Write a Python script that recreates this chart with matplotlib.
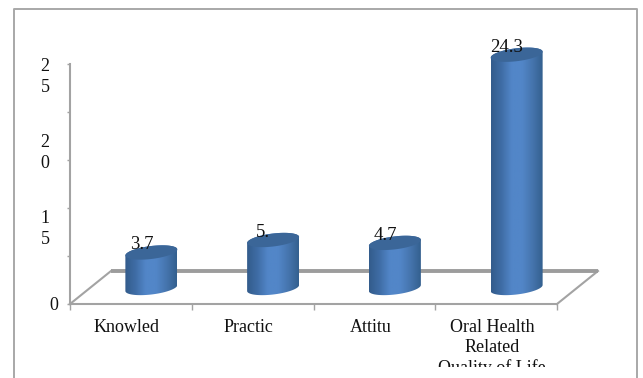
import numpy as np
import matplotlib
matplotlib.use("Agg")
import matplotlib.pyplot as plt
from matplotlib.colors import LinearSegmentedColormap
from matplotlib.lines import Line2D
from matplotlib.patches import PathPatch, Polygon
from matplotlib.path import Path
from matplotlib.transforms import Bbox, ScaledTranslation, TransformedBbox

#Chart values:
categories = ["Knowled", "Practic", "Attitu", "Oral Health\nRelated\nQuality of Life"]
values = [3.7, 5.0, 4.7, 24.3]
value_labels = ["3.7", "5.", "4.7", "24.3"]
y_ticks = [0, 5, 10, 15, 20, 25]
y_labels = ["2\n5", "2\n0", "1\n5", "0"]

W, H, DPI = 643, 378, 100
GRAY = "#a3a3a3"
plt.rcParams["font.family"] = ["Liberation Serif", "DejaVu Serif"]
plt.rcParams["font.size"] = 13

fig = plt.figure(figsize=(W / DPI, H / DPI), dpi=DPI)
ax = fig.add_axes([70 / W, (H - 304) / H, 487 / W, 240 / H])
ax.patch.set_alpha(0)


def fig_xy(x, y):
    # pixel position from the top left -> figure fraction
    return x / W, 1 - y / H


# Outer frame, the bottom edge falls outside the canvas
frame_x = [14, 14, 637, 637]
frame_y = [378, 9, 9, 378]
fx, fy = zip(*[fig_xy(a, b) for a, b in zip(frame_x, frame_y)])
fig.add_artist(Line2D(fx, fy, color="#a8a8a8", lw=1.4))

# Pseudo 3D: the bars and the floor sit back from the axis plane
to_bars = ax.transData + ScaledTranslation(20.5 / DPI, 16 / DPI, fig.dpi_scale_trans)
depth_x = 41 / (487 / 4)
depth_y = 33 / (240 / 25)

for x0 in (-0.5, 3.5):
    ax.plot([x0, x0 + depth_x], [0, depth_y], color=GRAY, lw=1.5, clip_on=False, zorder=1)
ax.plot([-0.5 + depth_x, 3.5 + depth_x], [depth_y, depth_y], color="#9c9c9c", lw=2.8,
        clip_on=False, zorder=1, solid_capstyle="butt")

shade = LinearSegmentedColormap.from_list(
    "cyl", ["#335c8c", "#3f6da6", "#5286c8", "#5286c8", "#4675ae", "#34608f"])
half_w = 26 / (487 / 4)
half_h = 6.5 / (240 / 25)
tilt = 3 / (240 / 25)


def rim(cx, cy, t):
    return np.column_stack([cx + half_w * np.cos(t), cy + half_h * np.sin(t) + tilt * np.cos(t)])


for i, v in enumerate(values):
    body = np.vstack([rim(i, 0, np.linspace(np.pi, 2 * np.pi, 40)),
                      rim(i, v, np.linspace(0, np.pi, 40))])
    clip = PathPatch(Path(np.vstack([body, body[:1]])), transform=to_bars, fc="none", ec="none")
    ax.add_patch(clip)
    im = ax.imshow(np.linspace(0, 1, 64)[None, :], cmap=shade, aspect="auto", zorder=3,
                   extent=(i - half_w, i + half_w, -2, v + 2), transform=to_bars)
    im.set_clip_path(clip)
    im.set_clip_box(fig.bbox)
    ax.add_patch(Polygon(rim(i, v, np.linspace(0, 2 * np.pi, 60)), transform=to_bars,
                         fc="#3b6698", ec="none", zorder=4, clip_on=False))
    # Value label above the cap
    ax.annotate(value_labels[i], (i, v), xytext=(10.5, 23.5), textcoords="offset pixels",
                ha="center", va="center", zorder=5, color="#111111", fontsize=13.5)

ax.set_xlim(-0.5, 3.5)
ax.set_ylim(0, 25)
for s in ("top", "right"):
    ax.spines[s].set_visible(False)
for s in ("left", "bottom"):
    ax.spines[s].set_color(GRAY)
    ax.spines[s].set_linewidth(1.5)
ax.set_yticks(y_ticks)
ax.set_yticklabels([])
ax.set_xticks(np.arange(-0.5, 4, 1))
ax.set_xticklabels([])
ax.tick_params(axis="y", color=GRAY, length=2.5, width=1)
ax.tick_params(axis="x", color=GRAY, length=4, width=1)

# Narrow label boxes wrap the axis numbers, so they do not sit on the ticks
y_label_x = [45, 45, 45, 54]
y_label_y = [77, 153, 229, 305]
for label, px, py in zip(y_labels, y_label_x, y_label_y):
    fx0, fy0 = fig_xy(px, py)
    fig.text(fx0, fy0, label, ha="center", va="center", fontsize=13, linespacing=1.3, color="#111111")

# Category labels, the last one is cut off by the edge of its box
label_box = TransformedBbox(Bbox([[0, (H - 367) / H], [1, 1]]), fig.transFigure)
for i, name in enumerate(categories):
    t = ax.annotate(name, (i, 0), xytext=(-4, -15), textcoords="offset pixels",
                    ha="center", va="top", fontsize=13, linespacing=1.22, color="#111111",
                    annotation_clip=False)
    t.set_clip_box(label_box)
    t.set_clip_on(True)

fig.savefig("out.png", dpi=DPI)
